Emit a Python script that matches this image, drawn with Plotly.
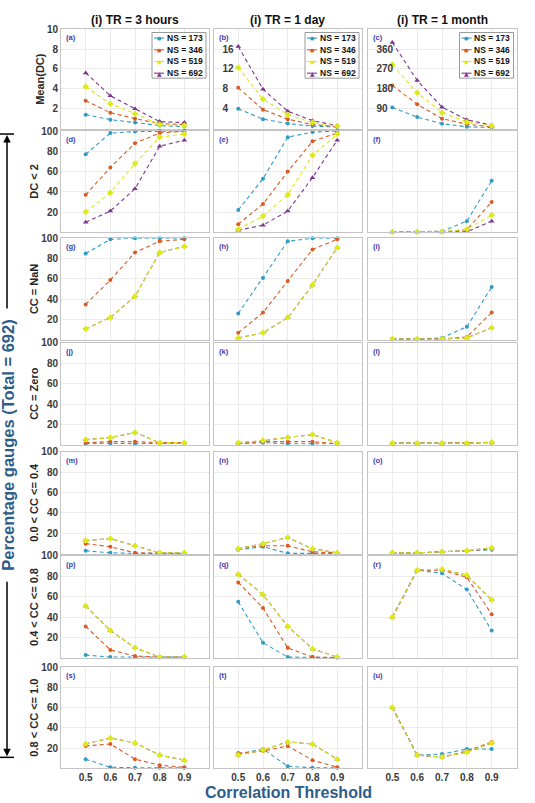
import plotly.graph_objects as go

W, H = 535, 803

x_vals = [0.5, 0.6, 0.7, 0.8, 0.9]
x_ticks = [0.5, 0.6, 0.7, 0.8, 0.9]
ns_labels = ["NS = 173", "NS = 346", "NS = 519", "NS = 692"]
col_titles = ["(i) TR = 3 hours", "(i) TR = 1 day", "(i) TR = 1 month"]
row_titles = ["Mean(DC)", "DC < 2", "CC = NaN", "CC = Zero",
              "0.0 < CC <= 0.4", "0.4 < CC <= 0.8", "0.8 < CC <= 1.0"]
panel_letters = list("abcdefghijklmnopqrstu")

# values per panel: [NS=173, NS=346, NS=519, NS=692]
panel_a = [[1.4, 0.9, 0.6, 0.3, 0.2], [2.8, 1.6, 1.0, 0.5, 0.4], [4.2, 2.5, 1.5, 0.4, 0.3], [5.6, 3.3, 2.0, 0.7, 0.6]]
panel_b = [[4.0, 1.9, 1.0, 0.5, 0.3], [8.2, 3.8, 1.9, 0.8, 0.4], [12.3, 5.9, 2.8, 1.2, 0.5], [16.5, 7.9, 3.5, 1.6, 0.6]]
panel_c = [[95, 52, 22, 8, 5], [195, 110, 45, 20, 8], [290, 162, 72, 30, 12], [390, 218, 97, 40, 15]]
panel_d = [[77, 98, 99.5, 100, 100], [37, 64, 88, 98, 100], [20, 39, 68, 94, 97], [10, 21, 43, 85, 91]]
panel_e = [[22, 53, 94, 99, 100], [8, 28, 60, 90, 98], [3, 16, 37, 76, 97], [2, 7, 21, 54, 91]]
panel_f = [[0.5, 0.5, 1, 11, 51], [0.3, 0.3, 0.5, 2.5, 30], [0.3, 0.3, 0.5, 3, 17], [0.2, 0.2, 0.3, 0.5, 11]]
panel_g = [[85, 99, 100, 100, 100], [35, 59, 86, 97, 99], [11, 22, 43, 86, 92], [11, 22, 43, 86, 92]]
panel_h = [[26, 61, 97, 100, 100], [7, 27, 58, 89, 99], [2, 7, 22, 54, 91], [2, 7, 22, 54, 91]]
panel_i = [[1, 1, 2, 13, 52], [1, 1, 1, 3, 27], [1, 1, 1, 2, 12], [1, 1, 1, 2, 12]]
panel_j = [[1, 1.5, 1, 1.5, 1.5], [2, 3, 3, 2, 2], [5, 7, 12, 2, 2], [5, 7, 12, 2, 2]]
panel_k = [[1, 2, 1, 1, 1], [1, 3, 3, 3, 1], [2, 4, 7, 10, 2], [2, 4, 7, 10, 2]]
panel_l = [[1.5, 1.5, 1.5, 1.5, 2], [1.5, 1.5, 1.5, 1.5, 2], [1.5, 1.5, 1.5, 1.5, 2.5], [1.5, 1.5, 1.5, 1.5, 2.5]]
panel_m = [[3, 1, 0.5, 0.5, 0.5], [10, 7, 1, 0.5, 0.5], [13, 15, 8, 1, 1], [13, 15, 8, 1, 1]]
panel_n = [[4, 7, 0.5, 0.5, 0.5], [5, 8, 8, 2, 1], [5, 10, 16, 5, 1], [5, 10, 16, 5, 1]]
panel_o = [[1, 1, 2, 3, 4], [1, 1, 2, 3, 5], [1, 1, 2, 3, 6], [1, 1, 2, 3, 6]]
panel_p = [[3, 1, 1, 1, 1], [31, 8, 2, 1, 1], [51, 27, 10, 1, 1], [51, 27, 10, 1, 1]]
panel_q = [[55, 15, 1, 1, 0.5], [74, 49, 10, 1, 0.5], [82, 62, 31, 9, 1], [82, 62, 31, 9, 1]]
panel_r = [[40, 86, 83, 67, 27], [40, 86, 86, 79, 43], [40, 86, 87, 81, 57], [40, 86, 87, 81, 57]]
panel_s = [[9, 1, 0.5, 0.5, 0.5], [22, 24, 9, 3, 1], [24, 30, 25, 13, 8], [24, 30, 25, 13, 8]]
panel_t = [[14, 19, 2, 0.5, 0.5], [15, 17, 22, 8, 1], [13, 18, 26, 24, 9], [13, 18, 26, 24, 9]]
panel_u = [[60, 13, 14, 19, 19], [60, 13, 11, 17, 26], [60, 13, 11, 16, 25], [60, 13, 11, 16, 25]]

panels = [panel_a, panel_b, panel_c, panel_d, panel_e, panel_f, panel_g,
          panel_h, panel_i, panel_j, panel_k, panel_l, panel_m, panel_n,
          panel_o, panel_p, panel_q, panel_r, panel_s, panel_t, panel_u]

top_ranges = [[0, 10], [0, 20], [0, 450]]
top_ticks = [[2, 4, 6, 8, 10], [4, 8, 12, 16], [90, 180, 270, 360]]
pct_ticks = [20, 40, 60, 80, 100]

colors = ["#2f9cc6", "#dc5a22", "#dcea1a", "#7e3590"]
symbols = ["circle", "circle", "diamond", "triangle-up"]
msizes = [4, 4, 5, 5]
legend_glyphs = ["●", "●", "◆", "▲"]
draw_order = [0, 1, 3, 2]  # 692 drawn beneath 519 where they coincide

# layout geometry (pixels)
col_px = [(61, 209), (213.5, 362), (367.5, 516.5)]
row_px = [(23.3, 123.5), (126, 228), (234, 336.5), (339.5, 442),
          (449, 552), (554, 657), (666, 768)]

def fx(px):
    return px / W

def fy(py):
    return 1 - py / H

FONT = "Liberation Sans"
BLUE = "#2d5d8a"
fig = go.Figure()
layout = {}
annotations = []
shapes = []

for r in range(7):
    for c in range(3):
        idx = r * 3 + c + 1
        xa = "x" if idx == 1 else f"x{idx}"
        ya = "y" if idx == 1 else f"y{idx}"
        data = panels[idx - 1]
        for s in draw_order:
            fig.add_trace(go.Scatter(
                x=x_vals, y=data[s], xaxis=xa, yaxis=ya, mode="lines+markers",
                name=ns_labels[s], showlegend=False,
                line=dict(color=colors[s], width=1.1, dash="4px,3px"),
                marker=dict(color=colors[s], symbol=symbols[s], size=msizes[s]),
                cliponaxis=False))
        x0, x1 = col_px[c]
        y0, y1 = row_px[r]
        xkey = "xaxis" if idx == 1 else f"xaxis{idx}"
        ykey = "yaxis" if idx == 1 else f"yaxis{idx}"
        layout[xkey] = dict(
            domain=[fx(x0), fx(x1)], anchor=ya, range=[0.4, 1.0],
            tickvals=x_ticks, ticktext=[f"{v:.1f}" for v in x_ticks],
            showticklabels=(r == 6), showgrid=True, gridcolor="#ececec",
            gridwidth=1, zeroline=False, showline=True, mirror=True,
            linecolor="#c4c4c4", linewidth=1, ticks="",
            tickfont=dict(family=FONT, size=10, color="#3a3a3a", weight="bold"))
        if r == 0:
            yr, yt = top_ranges[c], top_ticks[c]
        else:
            yr, yt = [0, 100], pct_ticks
        ydict = dict(
            domain=[fy(y1), fy(y0)], anchor=xa, range=yr, tickvals=yt,
            showticklabels=(c == 0 or r == 0), showgrid=True, gridcolor="#ececec",
            gridwidth=1, zeroline=False, showline=True, mirror=True,
            linecolor="#c4c4c4", linewidth=1, ticks="",
            tickfont=dict(family=FONT, size=10, color="#3a3a3a", weight="bold"))
        if r == 0 and c > 0:
            ydict["ticklabelposition"] = "inside"
            ydict["ticklabelstandoff"] = 8
        layout[ykey] = ydict
        # panel letter
        annotations.append(dict(
            x=fx(x0 + 3), y=fy(y0 + 2), xref="paper", yref="paper",
            xanchor="left", yanchor="top", showarrow=False,
            text=f"({panel_letters[idx - 1]})",
            font=dict(family=FONT, size=7.5, color="#3b3bb0", weight="bold")))

# row titles
for r, t in enumerate(row_titles):
    y0, y1 = row_px[r]
    annotations.append(dict(
        x=fx(40 if r == 0 else 34), y=fy((y0 + y1) / 2), xref="paper", yref="paper",
        textangle=-90, showarrow=False, text=t, xanchor="center", yanchor="middle",
        font=dict(family=FONT, size=11, color="#262626", weight="bold")))

# column titles
for c, t in enumerate(col_titles):
    x0, x1 = col_px[c]
    annotations.append(dict(
        x=fx((x0 + x1) / 2), y=fy(14), xref="paper", yref="paper",
        showarrow=False, text=t, xanchor="center", yanchor="middle",
        font=dict(family=FONT, size=12, color="#111111", weight="bold")))

# legends in top row (manual, compact)
for c in range(3):
    x0, x1 = col_px[c]
    bl, br = x1 - 57, x1 - 3
    bt, bb = 26.7, 72.7
    shapes.append(dict(type="rect", xref="paper", yref="paper",
                       x0=fx(bl), x1=fx(br), y0=fy(bb), y1=fy(bt),
                       line=dict(color="#9a9a9a", width=1), fillcolor="white",
                       layer="above"))
    for s in range(4):
        yy = 32.3 + s * 11.8
        shapes.append(dict(type="line", xref="paper", yref="paper",
                           x0=fx(bl + 2), x1=fx(bl + 12), y0=fy(yy), y1=fy(yy),
                           line=dict(color=colors[s], width=1.1), layer="above"))
        annotations.append(dict(
            x=fx(bl + 7), y=fy(yy), xref="paper", yref="paper", showarrow=False,
            text=legend_glyphs[s], xanchor="center", yanchor="middle",
            font=dict(family="DejaVu Sans", size=5 if s < 2 else 6, color=colors[s])))
        annotations.append(dict(
            x=fx(bl + 12.5), y=fy(yy), xref="paper", yref="paper", showarrow=False,
            text=ns_labels[s], xanchor="left", yanchor="middle",
            font=dict(family=FONT, size=8.5, color="#111111", weight="bold")))

# x-axis title
annotations.append(dict(
    x=fx(288), y=fy(792), xref="paper", yref="paper", showarrow=False,
    text="Correlation Threshold", xanchor="center", yanchor="middle",
    font=dict(family=FONT, size=16, color=BLUE, weight="bold")))

# big y label
annotations.append(dict(
    x=fx(8), y=fy(443), xref="paper", yref="paper", showarrow=False,
    text="Percentage gauges (Total = 692)", textangle=-90,
    xanchor="center", yanchor="middle",
    font=dict(family=FONT, size=16.5, color=BLUE, weight="bold")))

# dimension arrow
annotations.append(dict(
    x=fx(7), y=fy(130), xref="paper", yref="paper", ax=0, ay=175,
    showarrow=True, arrowhead=2, arrowsize=1, arrowwidth=1.5,
    arrowcolor="black", text=""))
annotations.append(dict(
    x=fx(7), y=fy(756), xref="paper", yref="paper", ax=0, ay=-176,
    showarrow=True, arrowhead=2, arrowsize=1, arrowwidth=1.5,
    arrowcolor="black", text=""))
shapes.append(dict(type="line", xref="paper", yref="paper",
                   x0=fx(0), x1=fx(14), y0=fy(129), y1=fy(129),
                   line=dict(color="black", width=1.5)))
shapes.append(dict(type="line", xref="paper", yref="paper",
                   x0=fx(0), x1=fx(14), y0=fy(757), y1=fy(757),
                   line=dict(color="black", width=1.5)))

fig.update_layout(
    width=W, height=H, margin=dict(l=0, r=0, t=0, b=0),
    paper_bgcolor="white", plot_bgcolor="white",
    annotations=annotations, shapes=shapes, showlegend=False,
    font=dict(family=FONT), **layout)

fig.write_html("out.html", config={"displayModeBar": False})
